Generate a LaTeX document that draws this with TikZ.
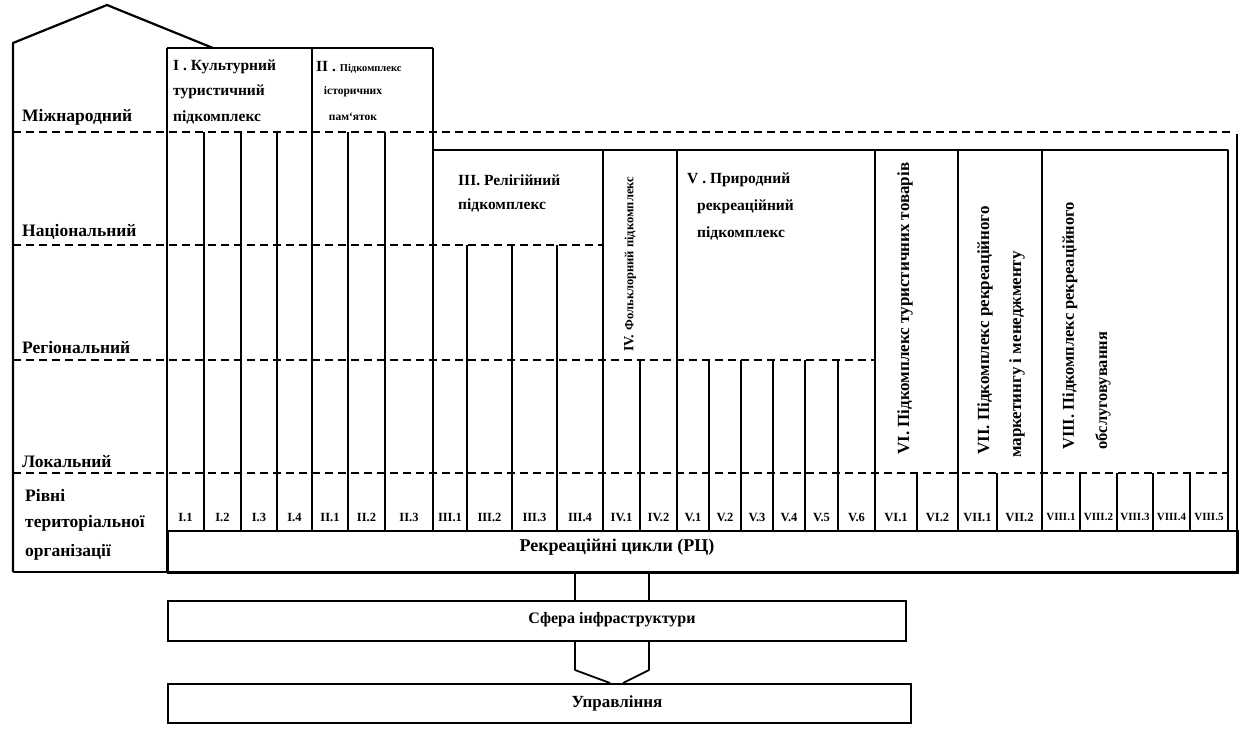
\documentclass[tikz,border=0pt]{standalone}
\usepackage{fontspec}
\setmainfont{Liberation Serif}
\begin{document}
\begin{tikzpicture}[x=1pt,y=-1pt,
  frame/.style={line width=2.2pt, line join=round},
  sepline/.style={line width=1.8pt},
  subline/.style={line width=1.5pt},
  dashline/.style={line width=1.5pt, dash pattern=on 8pt off 5pt},
  conn/.style={line width=1.8pt, line join=round},
  boxn/.style={draw, line width=2pt, inner sep=0pt, anchor=north west},
  lvl/.style={anchor=west, inner sep=0pt, font=\fontsize{17.5}{20}\selectfont\bfseries},
  hdr/.style={anchor=west, inner sep=0pt, font=\fontsize{15.5}{18}\selectfont\bfseries},
  hdrc/.style={inner sep=0pt, font=\fontsize{11.5}{13}\selectfont\bfseries},
  cell/.style={inner sep=0pt, font=\fontsize{12.5}{15}\selectfont\bfseries},
  vtext/.style={rotate=90, anchor=west, inner sep=0pt, font=\fontsize{17}{20}\selectfont\bfseries},
  ctext/.style={inner sep=0pt, font=\fontsize{17}{20}\selectfont\bfseries}]
\useasboundingbox (0,0) rectangle (1247,729);
\fill[white] (0,0) rectangle (1247,729);

% roof and outer frame
\draw[frame] (13,572) -- (13,43) -- (107,5) -- (213,48);
\draw[frame] (167,48) -- (433,48);
\draw[frame] (167,48) -- (167,572);
\draw[sepline] (312,48) -- (312,530);
\draw[sepline] (433,48) -- (433,530);
\draw[frame] (433,150) -- (1228,150) -- (1228,530);
\foreach \x in {603,677,875,958,1042} \draw[sepline] (\x,150) -- (\x,530);

% dashed level lines
\draw[dashline] (13,132) -- (1233,132);
\draw[dashline] (13,245) -- (603,245);
\draw[dashline] (13,360) -- (875,360);
\draw[dashline] (13,473) -- (1228,473);

% sub-column lines
\foreach \x in {204,241,277,348,385} \draw[subline] (\x,132) -- (\x,530);
\foreach \x in {467,512,557} \draw[subline] (\x,245) -- (\x,530);
\foreach \x in {640,709,741,773,805,838} \draw[subline] (\x,360) -- (\x,530);
\foreach \x in {917,997,1080,1117,1153,1190} \draw[subline] (\x,473) -- (\x,530);

% boxes of the lower part
\node[boxn, minimum width=1070pt, minimum height=42pt] (rc) at (167,530) {};
\draw[frame] (13,572) -- (1237,572) -- (1237,134);
\node[boxn, minimum width=738pt, minimum height=40pt] (sf) at (167,600) {};
\node[boxn, minimum width=743pt, minimum height=39pt] (up) at (167,683) {};
\node[ctext, font=\fontsize{18}{20}\selectfont\bfseries] (rctxt) at (617,547) {Рекреаційні цикли (РЦ)};
\node[ctext, font=\fontsize{16}{19}\selectfont\bfseries] (sftxt) at (612,620) {Сфера інфраструктури};
\node[ctext] (uptxt) at (617,703) {Управління};

% connectors
\coordinate (cl) at (575,0);
\coordinate (cr) at (649,0);
\coordinate (fl) at (575,670);
\coordinate (fr) at (649,670);
\coordinate (tl) at (610,0);
\coordinate (tr) at (623,0);
\draw[conn] (cl |- rc.south) -- (cl |- sf.north);
\draw[conn] (cr |- rc.south) -- (cr |- sf.north);
\draw[conn] (cl |- sf.south) -- (fl) -- (tl |- up.north);
\draw[conn] (cr |- sf.south) -- (fr) -- (tr |- up.north);

% level labels
\node[lvl] (l1) at (22,117) {Міжнародний};
\node[lvl] (l2) at (22,232) {Національний};
\node[lvl] (l3) at (22,348) {Регіональний};
\node[lvl] (l4) at (22,462) {Локальний};
\node[lvl] (l5) at (25,495) {Рівні};
\node[lvl] (l6) at (25,523) {територіальної};
\node[lvl] (l7) at (25,552) {організації};

% headers
\node[hdr] (h1a) at (173,67) {I . Культурний};
\node[hdr] (h1b) at (173,92) {туристичний};
\node[hdr] (h1c) at (173,117) {підкомплекс};
\node[hdr] (h2a) at (316,67) {II . {\fontsize{10.5}{12}\selectfont Підкомплекс}};
\node[hdrc] (h2b) at (353,92) {історичних};
\node[hdrc] (h2c) at (353,117) {пам`яток};
\node[hdr] (h3a) at (458,180) {III. Релігійний};
\node[hdr] (h3b) at (458,205) {підкомплекс};
\node[hdr] (h5a) at (687,180) {V . Природний};
\node[hdr] (h5b) at (697,207) {рекреаційний};
\node[hdr] (h5c) at (697,233) {підкомплекс};
\node[vtext] (h4) at (630,352) {{\fontsize{14}{16}\selectfont IV.} {\fontsize{12.5}{14}\selectfont Фольклорний підкомплекс}};
\node[vtext, font=\fontsize{17}{20}\selectfont\bfseries] (h6) at (905,455) {VI. Підкомплекс туристичних товарів};
\node[vtext] (h7a) at (985,455) {VII. Підкомплекс рекреаційного};
\node[vtext] (h7b) at (1017,458) {маркетингу і менеджменту};
\node[vtext, font=\fontsize{16.5}{20}\selectfont\bfseries] (h8a) at (1070,450) {VIII. Підкомплекс рекреаційного};
\node[vtext, font=\fontsize{16.5}{20}\selectfont\bfseries] (h8b) at (1103,450) {обслуговування};

% cell labels
\foreach \a/\b/\t/\n in {167/204/I.1/c1, 204/241/I.2/c2, 241/277/I.3/c3, 277/312/I.4/c4,
  312/348/II.1/c5, 348/385/II.2/c6, 385/433/II.3/c7,
  433/467/III.1/c8, 467/512/III.2/c9, 512/557/III.3/c10, 557/603/III.4/c11,
  603/640/IV.1/c12, 640/677/IV.2/c13,
  677/709/V.1/c14, 709/741/V.2/c15, 741/773/V.3/c16, 773/805/V.4/c17, 805/838/V.5/c18, 838/875/V.6/c19,
  875/917/VI.1/c20, 917/958/VI.2/c21, 958/997/VII.1/c22, 997/1042/VII.2/c23}
  \node[cell] (\n) at ({(\a+\b)/2},517) {\t};
\foreach \a/\b/\t/\n in {1042/1080/VIII.1/c24, 1080/1117/VIII.2/c25, 1117/1153/VIII.3/c26, 1153/1190/VIII.4/c27, 1190/1228/VIII.5/c28}
  \node[cell, font=\fontsize{11}{13}\selectfont\bfseries] (\n) at ({(\a+\b)/2},517) {\t};
\end{tikzpicture}
\end{document}
